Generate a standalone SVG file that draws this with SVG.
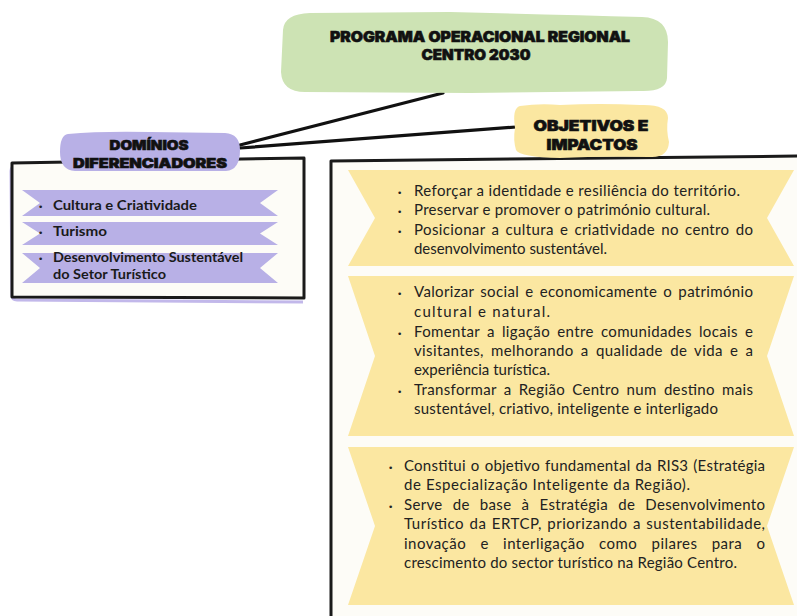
<svg xmlns="http://www.w3.org/2000/svg" width="797" height="616" viewBox="0 0 797 616">
<style>
.hd{font-family:Inter,"DejaVu Sans",sans-serif;font-weight:900;fill:#111;stroke:#111;stroke-width:0.6;text-anchor:middle}
.bd{font-family:Lato,"Open Sans",sans-serif;font-size:15px;fill:#222}
.dm{font-family:Lato,"Open Sans",sans-serif;font-size:14px;font-weight:700;fill:#1a1a1a}
.bl{font-family:"DejaVu Sans",sans-serif;font-size:9px;fill:#222}
.box{fill:#fdfcf7;stroke:#1a1a1a;stroke-width:3;stroke-linejoin:round}
.conn{stroke:#111;stroke-width:3.2;stroke-linecap:round;fill:none}
</style>
<rect width="797" height="616" fill="#ffffff"/>

<g id="connectors">
<path class="conn" d="M443 93 L240 145"/>
<path class="conn" d="M240 148 L516 127"/>
</g>

<g id="title">
<path d="M283 30 Q284 14 310 13 L450 12 Q560 15 642 17 Q668 18 668 42 L667 78 Q666 92 640 91 L470 93 L305 92 Q282 92 281 72 Z" fill="#cde3b4"/>
<text class="hd" x="480" y="42" font-size="14.5" textLength="300" lengthAdjust="spacingAndGlyphs">PROGRAMA OPERACIONAL REGIONAL</text>
<text class="hd" x="476" y="60" font-size="14.5" textLength="109" lengthAdjust="spacingAndGlyphs">CENTRO 2030</text>
</g>

<g id="dominios">
<path d="M300 158 L16 163 Q11 163 11 168 L12 292 Q12 297 17 297 L303 299" fill="none" stroke="#c2b8ea" stroke-width="3" transform="translate(0,3)"/>
<path class="box" d="M12 163 L304 158 L304 298 L12 297 Z"/>
<path d="M68 134 Q100 131 150 132 L225 133 Q240 134 240 150 Q240 170 226 171 L75 171 Q60 170 60 152 Q60 135 68 134 Z" fill="#b8b0e6"/>
<text class="hd" x="149" y="150" font-size="13" textLength="79" lengthAdjust="spacingAndGlyphs">DOMÍNIOS</text>
<text class="hd" x="150" y="168" font-size="13" textLength="154" lengthAdjust="spacingAndGlyphs">DIFERENCIADORES</text>
<path d="M22 190 L278 190 L260 203 L278 216 L22 216 L40 203 Z" fill="#b8b0e6"/>
<path d="M22 222 L278 222 L260 233.5 L278 245 L22 245 L40 233.5 Z" fill="#b8b0e6"/>
<path d="M22 253 L278 253 L260 268 L278 283 L22 283 L40 268 Z" fill="#b8b0e6"/>
<text class="bl" x="38" y="210">•</text>
<text class="dm" x="53" y="210" textLength="144" lengthAdjust="spacingAndGlyphs">Cultura e Criatividade</text>
<text class="bl" x="38" y="236">•</text>
<text class="dm" x="53" y="236" textLength="54" lengthAdjust="spacingAndGlyphs">Turismo</text>
<text class="bl" x="38" y="262">•</text>
<text class="dm" x="53" y="262" textLength="190" lengthAdjust="spacingAndGlyphs">Desenvolvimento Sustentável</text>
<text class="dm" x="53" y="279" textLength="113" lengthAdjust="spacingAndGlyphs">do Setor Turístico</text>
</g>

<g id="objetivos">
<path class="box" d="M331 161 L800 156 L800 620 L331 620 Z"/>
<path d="M520 106 Q540 103 560 105 Q600 103 640 105 Q668 104 668 118 Q666 130 669 142 Q668 158 650 157 Q600 156 560 158 Q520 157 516 150 Q513 140 515 128 Q512 108 520 106 Z" fill="#fbe7a1"/>
<text class="hd" x="591" y="131" font-size="14.5" textLength="115" lengthAdjust="spacingAndGlyphs">OBJETIVOS E</text>
<text class="hd" x="592" y="150" font-size="14.5" textLength="91" lengthAdjust="spacingAndGlyphs">IMPACTOS</text>

<path d="M348 170 L794 170 L767 218 L794 266 L348 266 L375 218 Z" fill="#fbe7a1"/>
<text class="bl" x="397" y="196">•</text>
<text class="bd" x="414" y="196" textLength="326" lengthAdjust="spacing">Reforçar a identidade e resiliência do território.</text>
<text class="bl" x="397" y="215">•</text>
<text class="bd" x="414" y="215" textLength="296" lengthAdjust="spacing">Preservar e promover o património cultural.</text>
<text class="bl" x="397" y="235">•</text>
<text class="bd" x="414" y="235" textLength="339" lengthAdjust="spacing" word-spacing="2">Posicionar a cultura e criatividade no centro do</text>
<text class="bd" x="414" y="254" textLength="193" lengthAdjust="spacing">desenvolvimento sustentável.</text>

<path d="M348 276 L794 276 L767 356 L794 436 L348 436 L375 356 Z" fill="#fbe7a1"/>
<text class="bl" x="397" y="297">•</text>
<text class="bd" x="414" y="297" textLength="339" lengthAdjust="spacing" word-spacing="2">Valorizar social e economicamente o património</text>
<text class="bd" x="414" y="317" textLength="136" lengthAdjust="spacing">cultural e natural.</text>
<text class="bl" x="397" y="337">•</text>
<text class="bd" x="414" y="337" textLength="339" lengthAdjust="spacing" word-spacing="3">Fomentar a ligação entre comunidades locais e</text>
<text class="bd" x="414" y="356" textLength="339" lengthAdjust="spacing" word-spacing="3">visitantes, melhorando a qualidade de vida e a</text>
<text class="bd" x="414" y="375" textLength="136" lengthAdjust="spacing">experiência turística.</text>
<text class="bl" x="397" y="395">•</text>
<text class="bd" x="414" y="395" textLength="339" lengthAdjust="spacing" word-spacing="3">Transformar a Região Centro num destino mais</text>
<text class="bd" x="414" y="414" textLength="304" lengthAdjust="spacing">sustentável, criativo, inteligente e interligado</text>

<path d="M348 447 L794 447 L767 526 L794 605 L348 605 L375 526 Z" fill="#fbe7a1"/>
<text class="bl" x="388" y="471">•</text>
<text class="bd" x="404" y="471" textLength="361" lengthAdjust="spacing" word-spacing="1">Constitui o objetivo fundamental da RIS3 (Estratégia</text>
<text class="bd" x="404" y="490" textLength="286" lengthAdjust="spacing">de Especialização Inteligente da Região).</text>
<text class="bl" x="388" y="510">•</text>
<text class="bd" x="404" y="510" textLength="361" lengthAdjust="spacing" word-spacing="6">Serve de base à Estratégia de Desenvolvimento</text>
<text class="bd" x="404" y="529" textLength="361" lengthAdjust="spacing" word-spacing="1">Turístico da ERTCP, priorizando a sustentabilidade,</text>
<text class="bd" x="404" y="549" textLength="361" lengthAdjust="spacing" word-spacing="10">inovação e interligação como pilares para o</text>
<text class="bd" x="404" y="568" textLength="333" lengthAdjust="spacing">crescimento do sector turístico na Região Centro.</text>
</g>
</svg>
